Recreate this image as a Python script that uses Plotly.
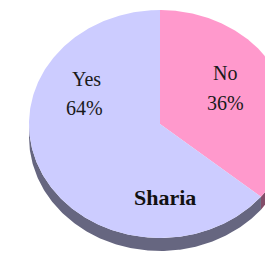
import numpy as np
import plotly.graph_objects as go

# ---- data ----
labels = ["No", "Yes"]
values = [36, 64]
pct_text = ["36%", "64%"]
title_text = "Sharia"

# ---- style ----
top_colors = ["#ff99cc", "#ccccff"]
side_colors = ["#834d69", "#666680"]
W, H = 265, 253
cx, cy = 160, 124          # ellipse centre (pixel coords, y down)
rx, ry = 131, 114          # ellipse radii
depth = 13                 # 3D thickness

fig = go.Figure()

fracs = np.array(values, dtype=float) / sum(values)
starts = np.concatenate([[0], np.cumsum(fracs)[:-1]]) * 360
ends = np.cumsum(fracs) * 360


def pt(theta_deg):
    t = np.radians(theta_deg)
    return cx + rx * np.sin(t), cy - ry * np.cos(t)

# sides (front half: theta 90..270)
for s, e, col in zip(starts, ends, side_colors):
    a, b = max(s, 90), min(e, 270)
    if b <= a:
        continue
    th = np.linspace(a, b, 200)
    x, y = pt(th)
    xs = np.concatenate([x, x[::-1]])
    ys = np.concatenate([y, (y + depth)[::-1]])
    fig.add_trace(go.Scatter(x=xs, y=ys, mode="lines", fill="toself",
                             fillcolor=col, line=dict(width=0, color=col),
                             hoverinfo="skip", showlegend=False))

# top faces
for s, e, col, lab, v in zip(starts, ends, top_colors, labels, values):
    th = np.linspace(s, e, 300)
    x, y = pt(th)
    xs = np.concatenate([[cx], x, [cx]])
    ys = np.concatenate([[cy], y, [cy]])
    fig.add_trace(go.Scatter(x=xs, y=ys, mode="lines", fill="toself",
                             fillcolor=col, line=dict(width=0, color=col),
                             name=lab, text=f"{lab}: {v}%", hoverinfo="text",
                             showlegend=False))

lab_font = dict(family="Liberation Serif, serif", size=20, color="#1a1a1a")
label_pos = {"Yes": (86, 79, 84, 108), "No": (225, 73, 225, 103)}
for lab, p in zip(labels, pct_text):
    x1, y1, x2, y2 = label_pos[lab]
    fig.add_annotation(x=x1, y=y1, text=lab, showarrow=False, font=lab_font,
                       xanchor="center", yanchor="middle")
    fig.add_annotation(x=x2, y=y2, text=p, showarrow=False, font=lab_font,
                       xanchor="center", yanchor="middle")

fig.add_annotation(x=165, y=197, text=f"<b>{title_text}</b>", showarrow=False,
                   font=dict(family="Liberation Serif, serif", size=22, color="#111111"),
                   xanchor="center", yanchor="middle")

fig.update_layout(
    width=W, height=H,
    margin=dict(l=0, r=0, t=0, b=0),
    paper_bgcolor="white", plot_bgcolor="white",
    xaxis=dict(range=[0, W], visible=False, fixedrange=True),
    yaxis=dict(range=[H, 0], visible=False, fixedrange=True),
)

fig.write_html(
    "out.html",
    config={"displayModeBar": False},
    post_script="document.body.style.margin='0';document.body.style.overflow='hidden';",
)
